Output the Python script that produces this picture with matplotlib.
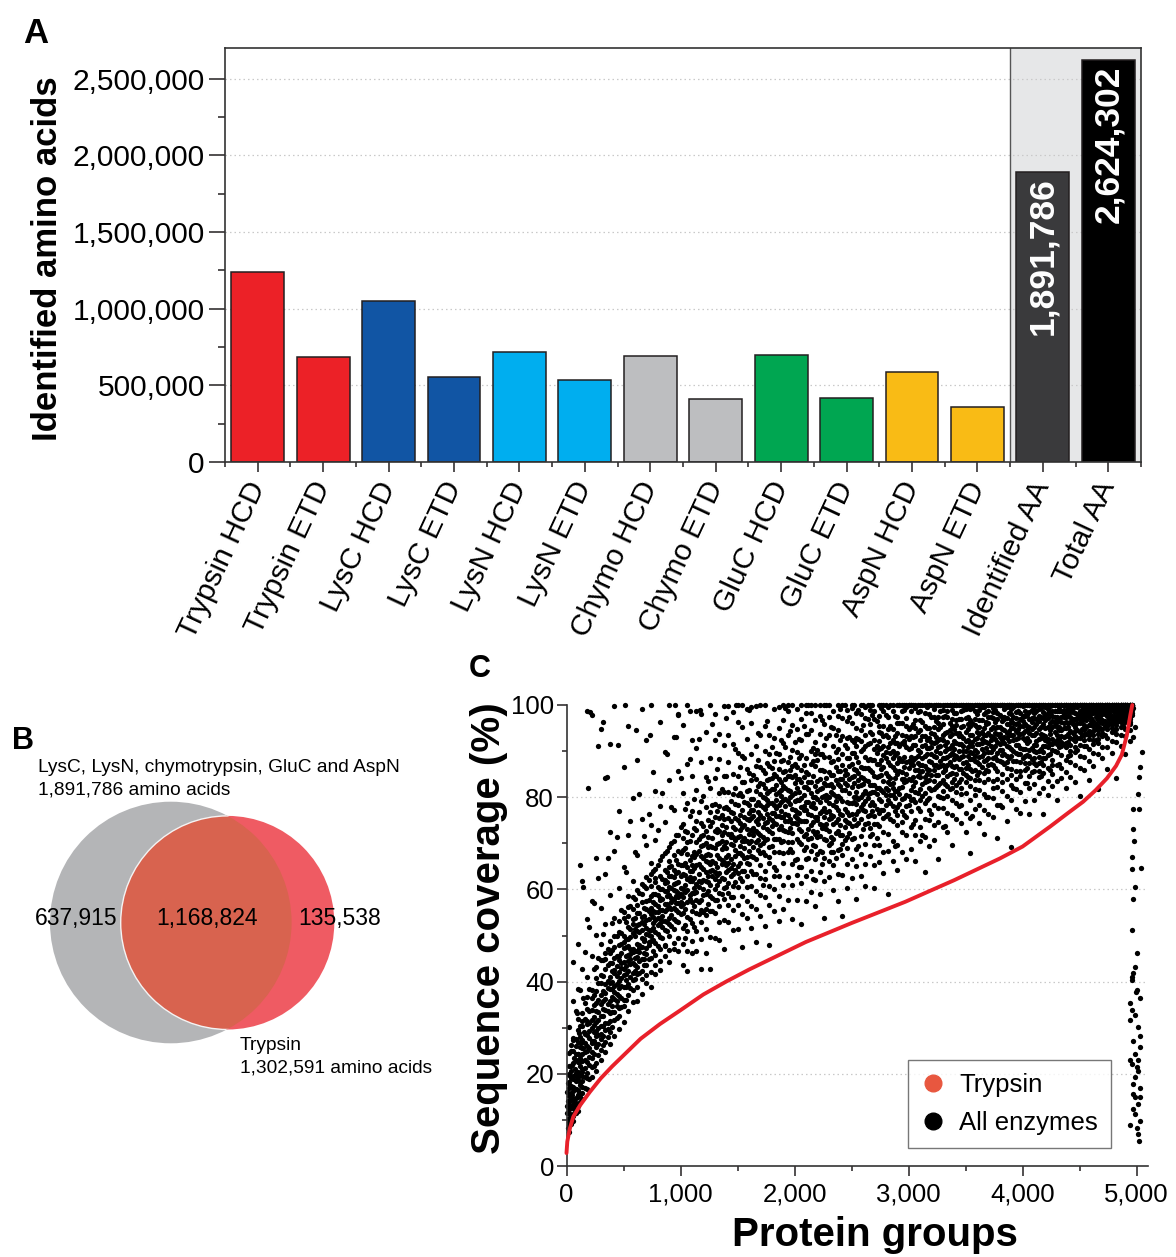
import matplotlib
matplotlib.use("Agg")
import matplotlib.pyplot as plt
from matplotlib.patches import Circle
from matplotlib.lines import Line2D
from matplotlib.ticker import FuncFormatter, MultipleLocator, FixedLocator

plt.rcParams['font.family'] = ['Liberation Sans', 'DejaVu Sans']

# ---------------- Panel A: identified amino acids per enzyme / fragmentation
CATEGORIES = ["Trypsin HCD", "Trypsin ETD", "LysC HCD", "LysC ETD", "LysN HCD",
              "LysN ETD", "Chymo HCD", "Chymo ETD", "GluC HCD", "GluC ETD",
              "AspN HCD", "AspN ETD", "Identified AA", "Total AA"]
AMINO_ACIDS = [1240000, 685000, 1050000, 555000, 718000, 535000, 692000, 410000,
               698000, 418000, 587000, 359000, 1891786, 2624302]
BAR_COLORS = ["#EC2127", "#EC2127", "#1155A4", "#1155A4", "#00AEEF", "#00AEEF",
              "#BDBEC0", "#BDBEC0", "#00A651", "#00A651", "#F9BB15", "#F9BB15",
              "#3A3A3C", "#000000"]
LABELLED_BARS = [12, 13]

# ---------------- Panel B: overlap of identified amino acids
OTHER_SET_NAME = "LysC, LysN, chymotrypsin, GluC and AspN"
OTHER_TOTAL = 1891786
TRYPSIN_TOTAL = 1302591
ONLY_OTHER = 637915
SHARED = 1168824
ONLY_TRYPSIN = 135538

# ---------------- Panel C: sequence coverage per protein group
TRYPSIN_X = [0, 7, 30, 60, 120, 206, 300, 400, 500, 650, 820, 1000, 1200, 1400, 1600,
             1800, 2100, 2500, 2970, 3400, 3800, 4000, 4240, 4400, 4530, 4640, 4740,
             4820, 4870, 4915, 4945, 4962]
TRYPSIN_Y = [2.8, 5.3, 8.2, 10.7, 13.2, 16.1, 19.0, 21.6, 24.0, 27.6, 30.8, 33.8, 37.2,
             40.0, 42.6, 45.0, 48.6, 52.7, 57.3, 62.0, 66.7, 69.3, 73.6, 76.6, 79.0,
             81.5, 84.1, 86.8, 89.2, 93.5, 97.8, 100.0]

COV_A_X = [20, 60, 100, 140, 180, 220, 260, 300, 340, 380, 420, 460, 500, 540, 580,
           620, 660, 700, 740, 780, 820, 860, 900, 940, 980]
COV_A = [
    [7.4, 15.2, 10.1, 21.7, 12.9, 8.8, 18.3, 11.5, 24.6, 13.8, 9.6, 16.9, 30.2, 19.9],
    [14.6, 9.7, 22.4, 17.1, 11.2, 27.8, 13.3, 19.5, 25.0, 10.8, 35.9, 16.2, 12.7, 44.3],
    [20.3, 13.1, 29.6, 16.4, 24.2, 11.9, 18.7, 31.8, 22.5, 15.3, 26.9, 48.2, 19.4, 38.5],
    [17.2, 27.3, 14.5, 22.8, 33.1, 19.6, 25.7, 15.9, 30.4, 21.1, 42.7, 24.3, 61.8, 18.4],
    [24.9, 19.1, 31.5, 16.8, 36.7, 22.6, 28.4, 20.2, 34.0, 26.1, 53.5, 30.7, 98.6, 40.9],
    [21.5, 33.8, 26.7, 19.3, 38.2, 29.9, 23.4, 36.5, 27.2, 45.6, 31.6, 24.8, 97.9, 57.4],
    [28.1, 22.3, 35.4, 40.7, 25.8, 31.2, 20.6, 37.9, 29.3, 50.1, 33.7, 66.8, 26.4, 43.2],
    [32.5, 25.2, 39.8, 28.7, 44.6, 22.9, 35.1, 30.3, 41.4, 37.0, 55.9, 27.6, 94.8, 48.1],
    [26.8, 36.3, 31.1, 46.2, 39.5, 24.7, 42.8, 33.9, 29.5, 52.6, 37.6, 63.4, 44.9, 84.2],
    [38.4, 29.1, 44.1, 33.2, 48.7, 26.5, 41.0, 35.8, 46.3, 31.4, 58.8, 39.7, 72.5, 91.6],
    [31.7, 42.6, 36.2, 49.9, 28.3, 45.1, 39.0, 33.5, 47.4, 53.8, 41.9, 68.3, 37.8, 99.7],
    [44.7, 34.3, 50.8, 29.7, 40.2, 47.9, 36.8, 53.1, 42.0, 32.6, 60.4, 45.5, 76.9, 38.7],
    [36.1, 47.2, 41.5, 53.7, 31.3, 44.3, 50.0, 38.9, 55.2, 42.8, 48.6, 64.9, 34.7, 86.5],
    [49.3, 39.4, 45.7, 56.1, 33.6, 51.9, 42.4, 37.2, 47.8, 54.3, 44.5, 71.7, 58.6, 95.4],
    [41.8, 52.5, 35.5, 47.0, 58.3, 44.0, 50.6, 38.2, 55.7, 46.4, 61.9, 40.3, 79.8, 53.6],
    [54.9, 45.3, 38.8, 50.9, 59.8, 43.1, 48.2, 35.9, 56.6, 52.2, 46.7, 67.4, 41.6, 88.1],
    [47.6, 40.5, 57.3, 51.2, 37.4, 54.0, 44.8, 61.1, 49.4, 42.3, 58.9, 75.2, 53.0, 99.2],
    [43.7, 55.8, 50.3, 39.6, 60.2, 47.3, 53.4, 45.9, 62.7, 57.5, 41.4, 69.6, 51.7, 92.4],
    [58.5, 48.9, 42.1, 54.6, 63.3, 51.1, 45.2, 60.8, 56.0, 38.9, 49.8, 73.9, 65.7, 100.0],
    [50.7, 61.6, 45.8, 56.9, 41.7, 53.3, 64.5, 48.4, 59.1, 55.1, 43.5, 81.3, 62.4, 70.8],
    [57.7, 47.1, 62.9, 52.8, 44.4, 60.0, 55.5, 66.4, 49.6, 58.2, 42.6, 78.1, 53.9, 96.3],
    [53.2, 64.2, 48.0, 59.6, 45.6, 56.8, 62.0, 51.3, 67.9, 55.3, 61.4, 74.6, 47.7, 89.8],
    [60.6, 50.0, 56.2, 66.1, 46.9, 63.0, 53.8, 58.7, 69.3, 52.4, 44.2, 83.7, 64.8, 100.0],
    [55.9, 67.5, 51.4, 61.2, 48.3, 58.0, 64.1, 53.5, 70.6, 59.9, 47.0, 77.3, 62.6, 93.1],
    [63.8, 52.9, 59.3, 68.4, 49.5, 57.0, 65.5, 55.0, 61.7, 71.9, 46.6, 85.6, 58.4, 98.0],
]

COV_B_X = [1020, 1060, 1100, 1140, 1180, 1220, 1260, 1300, 1340, 1380, 1420, 1460,
           1500, 1540, 1580, 1620, 1660, 1700, 1740, 1780, 1820, 1860, 1900, 1940, 1980]
COV_B = [
    [48.2, 63.3, 54.9, 68.6, 58.3, 74.2, 51.6, 60.1, 65.4, 43.7, 80.9, 56.8, 71.1, 95.7],
    [62.2, 50.9, 67.6, 57.2, 72.5, 46.6, 64.9, 59.9, 78.8, 54.1, 87.1, 70.2, 42.4, 100.0],
    [55.4, 71.7, 48.9, 63.9, 67.3, 59.2, 76.9, 52.7, 61.9, 84.6, 46.1, 65.2, 57.3, 92.5],
    [70.2, 59.5, 74.9, 51.0, 65.3, 54.9, 81.5, 61.1, 67.6, 46.6, 90.7, 57.7, 72.8, 98.8],
    [61.7, 69.4, 49.2, 79.2, 57.8, 64.8, 53.0, 74.5, 87.7, 55.5, 67.3, 42.8, 71.5, 98.0],
    [67.5, 55.7, 77.8, 61.9, 72.7, 51.5, 63.7, 84.4, 59.0, 70.0, 46.2, 66.2, 94.1, 54.4],
    [60.9, 76.7, 55.4, 65.6, 82.0, 49.6, 69.4, 64.0, 73.8, 58.5, 88.5, 42.7, 67.5, 100.0],
    [65.8, 54.8, 72.7, 60.1, 78.6, 63.7, 84.2, 57.6, 68.9, 49.4, 75.8, 92.3, 62.2, 98.1],
    [59.2, 70.1, 52.9, 75.5, 63.6, 81.0, 66.8, 56.5, 88.3, 61.8, 72.6, 49.0, 78.0, 93.7],
    [69.5, 62.3, 77.7, 57.9, 84.5, 53.4, 72.5, 65.9, 81.1, 47.1, 91.4, 60.2, 75.2, 99.7],
    [65.8, 75.4, 56.7, 72.0, 61.4, 81.1, 67.4, 52.9, 87.6, 64.2, 77.5, 59.2, 93.4, 99.8],
    [73.5, 60.8, 69.7, 80.8, 55.6, 65.5, 85.1, 58.3, 76.6, 51.1, 71.4, 91.5, 63.4, 98.4],
    [60.6, 71.3, 78.2, 65.1, 84.5, 56.7, 75.0, 67.9, 51.4, 89.6, 80.4, 63.5, 96.3, 100.0],
    [70.6, 63.9, 77.3, 58.5, 83.4, 67.5, 73.5, 54.6, 89.0, 61.8, 80.3, 95.2, 47.5, 100.0],
    [67.1, 81.4, 63.0, 75.3, 57.4, 86.2, 70.4, 65.7, 78.8, 53.9, 92.7, 73.1, 60.5, 99.2],
    [77.3, 60.7, 72.9, 67.2, 83.8, 56.4, 79.7, 70.5, 89.4, 64.0, 75.5, 51.6, 96.0, 99.6],
    [66.5, 74.8, 59.6, 81.3, 70.2, 86.7, 63.4, 78.4, 55.8, 91.2, 72.7, 48.6, 83.9, 99.7],
    [71.9, 65.4, 80.8, 58.8, 76.1, 69.6, 86.6, 62.5, 93.6, 78.3, 54.3, 83.1, 67.8, 100.0],
    [79.8, 70.8, 62.3, 74.4, 85.3, 67.4, 90.1, 58.4, 77.4, 64.0, 95.5, 52.1, 82.1, 100.0],
    [69.2, 78.8, 60.8, 84.0, 72.7, 89.4, 65.7, 75.5, 56.6, 93.6, 81.3, 48.0, 86.8, 67.1],
    [76.5, 64.8, 81.7, 71.0, 87.8, 60.0, 78.2, 68.2, 92.9, 74.3, 55.4, 85.1, 99.2, 63.0],
    [73.1, 84.0, 68.2, 78.2, 62.9, 89.3, 58.5, 81.1, 71.0, 95.0, 86.2, 53.2, 76.0, 99.5],
    [79.3, 70.4, 85.5, 65.8, 75.8, 91.7, 60.9, 72.9, 82.4, 96.8, 68.0, 55.7, 88.1, 100.0],
    [68.2, 76.2, 81.5, 72.5, 87.7, 62.6, 79.1, 70.2, 93.4, 84.6, 57.7, 98.7, 74.9, 100.0],
    [77.4, 65.5, 84.4, 72.3, 90.3, 68.2, 80.5, 60.9, 95.7, 86.8, 74.5, 53.5, 100.0, 70.3],
]

COV_C_X = [2020, 2060, 2100, 2140, 2180, 2220, 2260, 2300, 2340, 2380, 2420, 2460,
           2500, 2540, 2580, 2620, 2660, 2700, 2740, 2780, 2820, 2860, 2900, 2940, 2980]
COV_C = [
    [74.1, 84.0, 66.7, 79.4, 89.8, 71.0, 94.9, 63.1, 76.7, 86.5, 57.6, 99.2, 75.4, 81.9],
    [79.9, 69.9, 86.0, 74.9, 64.8, 92.5, 77.8, 72.6, 97.0, 61.3, 83.4, 89.1, 52.5, 100.0],
    [72.0, 78.9, 88.6, 66.5, 82.2, 74.9, 93.7, 62.9, 85.5, 98.3, 69.1, 57.4, 77.3, 100.0],
    [78.0, 68.4, 83.4, 74.0, 90.1, 63.9, 80.9, 94.5, 71.2, 87.2, 76.1, 59.5, 98.2, 100.0],
    [75.8, 82.5, 66.6, 86.8, 72.0, 92.0, 77.6, 62.1, 96.7, 80.1, 69.5, 89.4, 100.0, 56.5],
    [83.9, 74.1, 79.0, 68.3, 89.3, 63.7, 93.7, 71.6, 86.0, 97.6, 76.5, 59.1, 81.7, 100.0],
    [70.9, 80.3, 85.7, 75.8, 91.3, 66.8, 61.9, 83.0, 95.9, 73.3, 88.8, 100.0, 77.7, 53.7],
    [80.0, 72.6, 88.7, 66.1, 82.7, 77.1, 93.6, 69.6, 97.5, 85.5, 62.7, 100.0, 75.3, 78.7],
    [76.0, 87.8, 71.0, 82.2, 65.2, 91.1, 78.2, 95.0, 74.1, 84.9, 98.7, 59.8, 80.6, 68.1],
    [85.7, 77.3, 68.6, 90.4, 80.2, 72.7, 94.5, 63.4, 82.8, 97.7, 75.3, 88.2, 57.5, 100.0],
    [79.2, 84.0, 71.9, 89.3, 67.4, 93.3, 76.1, 97.1, 81.6, 63.1, 86.9, 69.8, 100.0, 54.2],
    [82.6, 74.6, 88.4, 69.0, 92.9, 78.9, 96.5, 71.3, 85.1, 65.6, 99.0, 76.8, 90.6, 60.2],
    [76.4, 87.1, 71.0, 82.2, 92.4, 66.5, 96.1, 78.7, 89.5, 73.7, 99.4, 84.3, 62.4, 100.0],
    [81.2, 73.9, 85.8, 78.5, 91.2, 68.8, 95.0, 76.3, 88.8, 98.2, 65.1, 92.9, 80.0, 57.9],
    [86.5, 77.9, 71.5, 90.0, 82.7, 75.3, 94.5, 67.7, 98.1, 84.3, 80.1, 92.2, 62.8, 100.0],
    [79.1, 83.8, 74.2, 88.8, 69.8, 93.5, 97.2, 77.0, 86.3, 65.6, 99.6, 81.4, 91.1, 60.8],
    [85.9, 76.1, 91.8, 81.0, 71.6, 95.9, 67.3, 82.6, 98.9, 78.3, 88.3, 73.4, 94.1, 100.0],
    [81.1, 88.1, 74.1, 92.5, 78.2, 97.0, 69.6, 84.7, 90.4, 65.2, 98.8, 75.9, 82.6, 60.3],
    [84.6, 79.7, 90.4, 73.7, 94.1, 69.7, 87.2, 82.1, 97.7, 76.6, 92.1, 66.0, 100.0, 95.4],
    [77.3, 86.6, 72.5, 91.2, 81.1, 95.5, 83.6, 68.2, 98.8, 75.4, 89.1, 63.6, 93.3, 100.0],
    [87.7, 81.6, 76.3, 93.0, 72.0, 97.3, 84.6, 79.4, 90.8, 68.3, 99.5, 83.3, 94.9, 59.0],
    [80.4, 90.0, 74.9, 86.6, 94.9, 70.5, 98.7, 78.0, 92.5, 83.1, 66.2, 100.0, 88.4, 82.0],
    [85.1, 77.9, 89.6, 74.0, 93.9, 81.3, 97.3, 69.6, 100.0, 76.1, 87.4, 96.1, 64.2, 91.7],
    [82.2, 91.7, 76.9, 87.9, 72.5, 96.0, 83.9, 98.7, 79.7, 93.6, 68.2, 100.0, 85.5, 74.6],
    [87.7, 80.4, 93.2, 75.6, 97.1, 83.6, 71.7, 90.8, 99.6, 78.0, 95.5, 66.5, 85.1, 100.0],
]

COV_D_X = [3020, 3060, 3100, 3140, 3180, 3220, 3260, 3300, 3340, 3380, 3420, 3460,
           3500, 3540, 3580, 3620, 3660, 3700, 3740, 3780, 3820, 3860, 3900, 3940, 3980]
COV_D = [
    [83.7, 90.6, 77.1, 95.2, 81.6, 98.6, 73.5, 87.1, 93.2, 79.4, 100.0, 68.7, 88.8, 100.0],
    [88.6, 78.9, 93.2, 83.4, 75.1, 96.7, 85.9, 71.7, 99.4, 81.2, 91.3, 95.0, 66.2, 100.0],
    [81.8, 87.0, 77.0, 92.4, 84.4, 96.7, 73.5, 89.7, 98.8, 79.4, 94.6, 70.4, 100.0, 85.5],
    [86.8, 83.2, 91.3, 78.8, 95.5, 75.3, 98.3, 84.3, 89.0, 80.9, 100.0, 93.2, 71.3, 63.8],
    [83.8, 90.7, 79.8, 95.0, 75.1, 98.1, 87.8, 82.1, 100.0, 86.0, 92.9, 77.3, 100.0, 69.5],
    [88.9, 81.8, 93.8, 85.8, 97.4, 78.4, 73.9, 91.7, 99.2, 83.5, 95.3, 70.7, 87.0, 100.0],
    [86.5, 90.8, 82.7, 94.7, 77.6, 97.3, 84.8, 100.0, 92.4, 80.2, 74.6, 96.2, 100.0, 66.7],
    [92.3, 85.4, 88.6, 81.4, 95.9, 77.6, 99.0, 83.7, 93.6, 73.5, 100.0, 87.0, 97.5, 79.8],
    [84.7, 90.4, 80.2, 94.1, 86.9, 97.3, 76.6, 100.0, 82.5, 91.9, 98.8, 72.4, 88.7, 100.0],
    [89.6, 83.4, 93.8, 79.5, 97.0, 86.7, 76.2, 98.9, 91.4, 82.1, 100.0, 85.3, 69.6, 95.5],
    [86.8, 91.7, 82.7, 95.6, 78.7, 98.2, 88.9, 85.0, 100.0, 75.2, 93.9, 100.0, 81.2, 96.8],
    [91.5, 82.0, 95.3, 86.1, 98.7, 78.2, 88.7, 93.3, 74.3, 100.0, 84.0, 97.0, 80.7, 100.0],
    [84.9, 90.1, 80.9, 94.2, 87.6, 97.1, 76.6, 99.2, 92.2, 83.2, 100.0, 72.4, 100.0, 86.3],
    [89.7, 86.2, 93.6, 82.4, 96.8, 79.3, 99.1, 88.3, 91.7, 84.1, 100.0, 75.5, 95.5, 67.9],
    [87.8, 92.7, 83.8, 95.6, 80.4, 98.7, 90.3, 85.9, 100.0, 77.5, 96.9, 88.9, 100.0, 81.8],
    [93.8, 85.5, 96.7, 88.7, 81.5, 98.9, 78.3, 91.6, 100.0, 87.1, 95.3, 74.4, 100.0, 83.8],
    [89.5, 95.0, 85.2, 98.0, 87.8, 80.6, 99.5, 92.2, 77.3, 100.0, 83.4, 93.4, 72.1, 100.0],
    [91.8, 87.0, 96.0, 83.9, 98.7, 89.7, 80.1, 100.0, 94.0, 76.4, 100.0, 85.7, 88.5, 97.4],
    [88.5, 93.0, 83.5, 97.1, 86.9, 99.4, 79.9, 100.0, 90.4, 95.2, 75.8, 100.0, 82.1, 98.4],
    [91.9, 85.7, 95.2, 89.6, 98.2, 82.3, 100.0, 88.1, 78.4, 100.0, 93.7, 84.0, 96.9, 71.2],
    [90.2, 94.9, 85.1, 97.5, 87.6, 100.0, 81.4, 92.4, 77.8, 100.0, 89.1, 96.5, 100.0, 83.3],
    [94.0, 87.6, 97.2, 83.9, 99.5, 91.2, 80.3, 100.0, 88.9, 95.8, 74.9, 100.0, 86.3, 92.8],
    [88.9, 93.5, 86.2, 96.7, 82.6, 99.1, 100.0, 90.4, 79.4, 95.0, 84.8, 100.0, 98.1, 69.2],
    [92.6, 89.6, 95.8, 85.7, 98.4, 81.7, 100.0, 87.8, 94.3, 83.9, 100.0, 77.4, 91.3, 97.2],
    [90.6, 96.9, 87.6, 100.0, 84.5, 93.7, 81.1, 100.0, 89.4, 98.3, 76.6, 100.0, 85.6, 95.4],
]

COV_E_X = [4020, 4060, 4100, 4140, 4180, 4220, 4260, 4300, 4340, 4380, 4420, 4460,
           4500, 4540, 4580, 4620, 4660, 4700, 4740, 4780, 4820, 4860, 4900, 4940]
COV_E = [
    [94.3, 88.9, 97.6, 85.8, 100.0, 92.3, 83.0, 100.0, 90.4, 95.9, 79.2, 100.0, 87.5, 98.7],
    [90.3, 95.3, 87.4, 98.4, 84.6, 100.0, 92.1, 97.0, 82.0, 100.0, 88.9, 76.3, 94.0, 100.0],
    [93.6, 88.6, 97.1, 91.3, 99.5, 85.7, 100.0, 82.9, 95.2, 87.4, 100.0, 90.1, 79.3, 98.3],
    [92.6, 96.6, 87.4, 99.2, 90.0, 100.0, 84.4, 94.8, 80.9, 100.0, 88.8, 97.7, 100.0, 85.7],
    [95.9, 91.0, 98.5, 88.6, 100.0, 85.2, 93.6, 100.0, 82.0, 97.2, 89.7, 100.0, 87.0, 76.3],
    [90.8, 95.3, 89.1, 98.2, 86.3, 100.0, 92.7, 100.0, 83.6, 97.1, 80.4, 100.0, 92.0, 99.2],
    [95.3, 90.2, 97.7, 88.1, 100.0, 92.7, 85.0, 100.0, 91.6, 96.6, 82.4, 100.0, 86.9, 98.8],
    [93.6, 97.4, 89.8, 100.0, 91.5, 100.0, 87.0, 95.2, 83.6, 98.8, 92.5, 100.0, 79.5, 96.4],
    [96.4, 92.0, 98.7, 89.1, 100.0, 94.5, 86.3, 100.0, 91.1, 97.3, 84.2, 100.0, 93.2, 100.0],
    [93.2, 97.3, 90.9, 100.0, 88.1, 100.0, 95.1, 98.4, 85.5, 100.0, 91.7, 82.0, 96.3, 100.0],
    [96.3, 92.9, 98.5, 90.0, 100.0, 94.3, 87.6, 100.0, 91.3, 97.4, 84.3, 100.0, 89.1, 99.1],
    [94.4, 98.2, 92.1, 100.0, 89.8, 100.0, 95.3, 87.0, 100.0, 97.0, 93.3, 83.3, 100.0, 90.9],
    [97.6, 94.1, 100.0, 91.4, 100.0, 89.0, 96.0, 100.0, 92.8, 98.7, 86.4, 100.0, 80.3, 96.9],
    [95.7, 98.4, 93.5, 100.0, 91.2, 100.0, 94.6, 88.8, 100.0, 97.4, 92.4, 85.9, 100.0, 99.3],
    [97.3, 94.4, 99.1, 92.6, 100.0, 90.4, 95.7, 100.0, 87.9, 98.3, 93.5, 100.0, 83.8, 100.0],
    [95.5, 98.2, 93.4, 100.0, 91.6, 100.0, 96.6, 89.5, 99.2, 100.0, 94.4, 86.8, 100.0, 92.4],
    [98.2, 95.4, 100.0, 93.8, 100.0, 91.7, 96.7, 100.0, 89.3, 98.9, 94.5, 100.0, 92.6, 81.8],
    [96.8, 99.0, 94.9, 100.0, 93.2, 100.0, 96.1, 90.9, 100.0, 98.1, 94.0, 88.4, 100.0, 99.5],
    [98.1, 96.2, 100.0, 94.7, 100.0, 92.9, 97.6, 100.0, 90.9, 99.0, 95.4, 100.0, 86.2, 100.0],
    [97.0, 99.0, 95.8, 100.0, 94.2, 100.0, 97.6, 92.1, 100.0, 100.0, 96.4, 89.6, 100.0, 95.1],
    [98.8, 96.9, 100.0, 95.6, 100.0, 93.8, 97.7, 100.0, 91.9, 100.0, 96.3, 100.0, 94.8, 84.1],
    [97.5, 100.0, 96.4, 100.0, 95.3, 100.0, 98.2, 93.4, 100.0, 99.1, 96.9, 91.1, 100.0, 100.0],
    [99.0, 97.5, 100.0, 96.3, 100.0, 94.9, 98.3, 100.0, 93.3, 100.0, 96.9, 100.0, 89.4, 100.0],
    [98.2, 100.0, 97.0, 100.0, 95.9, 100.0, 98.7, 94.6, 100.0, 100.0, 97.5, 92.2, 100.0, 96.4],
]

# second set of protein-group bins, between the ones above
COV2_A_X = [40, 80, 120, 160, 200, 240, 280, 320, 360, 400, 440, 480, 520, 560, 600,
            640, 680, 720, 760, 800, 840, 880, 920, 960, 1000]
COV2_A = [
    [12.6, 9.1, 17.3, 14.4, 21.8, 10.7, 15.9, 26.2, 13.1, 19.0],
    [18.4, 13.7, 22.9, 11.5, 16.6, 27.5, 20.1, 14.8, 33.6, 24.2],
    [15.3, 21.7, 25.8, 18.2, 30.4, 13.9, 23.5, 19.9, 38.1, 28.0],
    [26.7, 19.4, 23.1, 31.9, 17.0, 28.6, 21.2, 35.3, 46.5, 24.8],
    [22.0, 29.3, 25.6, 18.9, 33.7, 27.8, 38.4, 23.6, 31.1, 51.9],
    [30.5, 24.3, 34.9, 27.1, 21.6, 37.2, 29.0, 42.8, 32.3, 57.1],
    [26.4, 33.3, 29.9, 39.6, 24.1, 36.0, 31.7, 45.2, 28.5, 62.5],
    [35.8, 28.2, 32.6, 41.3, 37.9, 26.3, 44.7, 30.4, 50.3, 34.1],
    [31.0, 38.6, 35.2, 27.9, 43.5, 33.6, 47.0, 40.1, 29.7, 66.9],
    [38.3, 33.5, 42.4, 36.6, 30.2, 46.9, 40.0, 34.8, 52.7, 44.1],
    [34.7, 41.2, 37.4, 45.6, 32.0, 39.5, 49.8, 43.3, 35.9, 71.4],
    [42.9, 36.5, 46.3, 39.1, 50.6, 34.4, 44.0, 40.8, 55.5, 48.2],
    [38.8, 45.5, 41.7, 49.2, 36.1, 43.4, 53.0, 47.4, 40.3, 63.8],
    [47.1, 41.0, 44.8, 51.4, 38.6, 49.6, 43.9, 56.3, 46.0, 74.9],
    [43.6, 49.9, 46.7, 40.5, 53.8, 45.1, 51.5, 57.9, 42.2, 68.2],
    [50.8, 44.4, 48.0, 54.9, 41.8, 46.4, 52.6, 59.3, 47.3, 80.7],
    [46.2, 52.4, 49.3, 43.5, 56.0, 48.8, 54.3, 60.7, 45.0, 71.6],
    [53.6, 47.9, 51.1, 57.7, 44.9, 50.2, 55.4, 62.0, 48.6, 76.3],
    [49.0, 55.3, 52.7, 46.6, 59.1, 51.6, 57.2, 63.9, 54.0, 85.4],
    [56.5, 50.4, 53.9, 60.6, 47.8, 55.0, 58.8, 65.3, 52.3, 72.9],
    [51.8, 57.9, 55.6, 49.5, 62.3, 54.2, 60.1, 67.2, 53.1, 81.0],
    [58.6, 53.0, 56.9, 63.7, 50.9, 61.5, 55.7, 68.4, 59.7, 89.3],
    [54.4, 60.3, 58.2, 52.0, 65.0, 57.3, 62.8, 70.1, 55.8, 77.8],
    [61.4, 55.5, 59.6, 66.4, 53.2, 58.5, 63.6, 71.7, 57.1, 93.0],
    [57.2, 62.9, 60.4, 54.6, 67.8, 59.0, 65.2, 73.5, 56.3, 84.1],
]

COV2_B_X = [1040, 1080, 1120, 1160, 1200, 1240, 1280, 1320, 1360, 1400, 1440, 1480,
            1520, 1560, 1600, 1640, 1680, 1720, 1760, 1800, 1840, 1880, 1920, 1960, 2000]
COV2_B = [
    [63.1, 55.7, 68.9, 59.4, 72.6, 52.3, 65.8, 61.0, 77.4, 49.5],
    [57.9, 66.3, 61.8, 53.6, 70.5, 64.0, 58.7, 75.9, 62.6, 88.2],
    [68.1, 60.2, 64.7, 56.5, 73.3, 62.4, 51.8, 67.0, 79.6, 59.3],
    [60.6, 71.0, 65.5, 57.2, 63.3, 76.8, 54.7, 68.4, 61.9, 92.6],
    [66.9, 58.8, 73.7, 62.1, 69.6, 55.0, 64.5, 80.3, 60.0, 71.8],
    [71.4, 63.0, 59.6, 67.7, 75.1, 56.9, 65.9, 61.7, 83.5, 69.2],
    [62.8, 69.3, 74.6, 58.1, 66.2, 78.4, 64.1, 71.2, 55.3, 95.8],
    [73.0, 64.9, 60.9, 69.8, 67.5, 77.0, 57.8, 72.4, 86.1, 63.2],
    [65.6, 71.9, 62.4, 76.2, 68.7, 59.1, 74.0, 66.3, 81.8, 70.6],
    [70.2, 63.8, 77.9, 67.1, 73.6, 60.5, 69.0, 84.7, 65.4, 97.1],
    [74.8, 66.6, 71.3, 62.9, 79.2, 69.9, 64.6, 76.7, 72.1, 58.4],
    [67.3, 73.2, 78.6, 64.2, 70.8, 82.0, 68.5, 75.4, 61.6, 90.4],
    [76.1, 69.5, 72.8, 65.7, 80.9, 71.6, 67.9, 86.6, 74.3, 62.5],
    [69.0, 75.7, 71.1, 83.2, 66.8, 78.9, 73.9, 64.0, 88.4, 70.4],
    [78.3, 72.0, 68.3, 75.0, 81.6, 70.0, 76.6, 65.6, 85.3, 99.0],
    [71.7, 77.3, 73.4, 69.2, 84.9, 75.9, 67.0, 79.7, 72.7, 63.3],
    [76.8, 70.7, 82.4, 74.1, 68.6, 79.0, 72.2, 88.0, 75.3, 93.9],
    [73.5, 80.1, 70.0, 77.8, 75.5, 85.8, 68.1, 82.9, 71.4, 60.9],
    [79.5, 73.0, 76.4, 83.7, 70.9, 78.2, 87.4, 74.6, 81.0, 96.5],
    [75.1, 81.8, 72.3, 78.7, 86.3, 76.5, 69.4, 84.2, 73.7, 90.8],
    [80.6, 74.2, 77.6, 71.0, 84.5, 79.3, 89.6, 76.0, 82.7, 64.1],
    [77.0, 83.3, 73.8, 80.2, 87.9, 75.6, 81.5, 70.3, 92.4, 78.9],
    [82.1, 76.3, 79.6, 72.6, 85.7, 78.0, 90.9, 74.9, 83.9, 99.4],
    [78.5, 84.6, 75.2, 81.4, 73.3, 88.8, 80.0, 86.0, 68.7, 94.3],
    [83.0, 77.2, 80.9, 74.4, 87.1, 79.2, 92.0, 76.0, 84.8, 66.3],
]

COV2_C_X = [2040, 2080, 2120, 2160, 2200, 2240, 2280, 2320, 2360, 2400, 2440, 2480,
            2520, 2560, 2600, 2640, 2680, 2720, 2760, 2800, 2840, 2880, 2920, 2960, 3000]
COV2_C = [
    [79.4, 73.1, 84.0, 76.6, 70.2, 88.5, 81.1, 92.7, 75.0, 64.8],
    [74.8, 82.3, 78.0, 86.9, 71.5, 80.4, 68.6, 77.3, 95.5, 84.4],
    [81.7, 76.4, 85.1, 73.0, 79.0, 66.9, 83.2, 70.9, 93.8, 100.0],
    [77.9, 84.7, 72.6, 74.6, 87.8, 80.0, 69.7, 90.7, 78.8, 62.2],
    [83.6, 75.1, 71.4, 81.3, 75.8, 90.2, 79.7, 67.6, 72.4, 88.0],
    [80.0, 85.9, 77.0, 73.3, 89.4, 74.0, 81.9, 96.8, 68.1, 65.6],
    [74.2, 79.3, 82.6, 70.7, 76.7, 92.8, 84.1, 73.2, 80.5, 100.0],
    [81.2, 87.6, 71.4, 84.8, 76.1, 75.5, 82.9, 95.3, 68.2, 70.1],
    [86.6, 74.7, 83.8, 77.8, 89.9, 72.3, 93.5, 79.1, 66.9, 80.3],
    [82.4, 76.3, 79.9, 85.6, 92.3, 71.9, 84.0, 99.1, 74.0, 68.7],
    [77.5, 81.6, 84.9, 91.4, 73.6, 86.0, 75.0, 83.0, 70.8, 100.0],
    [84.0, 78.7, 81.0, 86.8, 93.1, 74.5, 88.4, 72.2, 97.4, 76.2],
    [78.9, 83.1, 86.1, 75.3, 91.9, 84.5, 71.2, 89.5, 80.0, 100.0],
    [85.3, 79.6, 82.5, 87.7, 74.4, 76.9, 92.6, 99.0, 83.7, 69.5],
    [80.8, 84.2, 77.2, 90.5, 86.4, 73.0, 95.7, 82.9, 78.6, 100.0],
    [86.4, 79.8, 83.6, 75.9, 91.6, 80.8, 88.0, 74.4, 97.0, 100.0],
    [78.9, 85.4, 88.0, 82.6, 93.7, 76.9, 97.8, 81.2, 72.0, 100.0],
    [87.3, 80.6, 84.4, 89.6, 77.5, 96.5, 82.0, 91.2, 74.1, 71.1],
    [81.6, 86.2, 79.1, 90.7, 84.9, 94.0, 77.3, 99.3, 88.0, 100.0],
    [85.2, 78.2, 88.5, 82.0, 93.6, 76.0, 89.9, 97.8, 80.4, 100.0],
    [80.4, 87.0, 84.2, 91.7, 78.7, 95.4, 82.8, 100.0, 75.3, 89.5],
    [86.0, 81.3, 89.1, 77.1, 93.3, 84.2, 97.6, 79.8, 91.8, 69.5],
    [82.1, 87.9, 91.0, 78.6, 85.6, 96.0, 80.6, 100.0, 88.4, 100.0],
    [88.7, 83.4, 79.9, 92.2, 86.5, 98.9, 76.1, 91.5, 84.0, 100.0],
    [83.9, 90.5, 87.8, 80.3, 94.7, 86.3, 100.0, 78.2, 92.6, 100.0],
]

COV2_D_X = [3040, 3080, 3120, 3160, 3200, 3240, 3280, 3320, 3360, 3400, 3440, 3480,
            3520, 3560, 3600, 3640, 3680, 3720, 3760, 3800, 3840, 3880, 3920, 3960, 4000]
COV2_D = [
    [88.1, 82.4, 91.3, 79.6, 86.9, 95.8, 84.3, 100.0, 74.2, 93.0],
    [84.6, 90.2, 87.5, 81.0, 94.1, 77.7, 89.0, 98.4, 85.8, 100.0],
    [91.0, 85.7, 82.8, 88.4, 96.3, 80.2, 93.2, 100.0, 87.0, 71.9],
    [86.2, 92.4, 89.3, 83.5, 95.1, 79.4, 90.6, 99.5, 85.0, 100.0],
    [90.8, 84.8, 87.7, 93.9, 81.6, 97.3, 89.4, 100.0, 76.4, 92.0],
    [87.0, 93.1, 90.1, 84.9, 96.6, 82.3, 88.8, 100.0, 91.9, 100.0],
    [92.6, 86.8, 89.5, 83.1, 95.3, 91.0, 98.8, 80.0, 87.9, 100.0],
    [88.5, 94.0, 85.9, 91.4, 97.7, 82.9, 90.0, 100.0, 86.4, 73.8],
    [93.2, 87.6, 90.7, 85.0, 96.1, 89.1, 100.0, 81.8, 94.5, 100.0],
    [89.2, 94.8, 86.6, 92.1, 98.2, 84.0, 90.5, 100.0, 88.2, 100.0],
    [94.0, 88.3, 91.6, 86.2, 97.0, 90.1, 100.0, 83.4, 93.3, 78.0],
    [90.0, 95.4, 87.5, 92.9, 99.0, 85.2, 91.2, 100.0, 89.0, 100.0],
    [94.7, 89.0, 92.3, 86.9, 97.5, 90.8, 100.0, 84.3, 95.9, 100.0],
    [91.1, 96.2, 88.3, 93.6, 99.4, 85.7, 92.0, 100.0, 89.6, 76.0],
    [95.3, 89.9, 92.8, 87.6, 98.0, 91.5, 100.0, 84.9, 94.1, 100.0],
    [91.8, 96.8, 89.0, 94.2, 99.6, 86.5, 92.7, 100.0, 90.4, 100.0],
    [95.9, 90.6, 93.4, 88.0, 98.5, 92.0, 100.0, 85.8, 96.4, 80.1],
    [92.4, 97.3, 89.7, 94.8, 100.0, 87.2, 93.3, 100.0, 91.0, 100.0],
    [96.4, 91.2, 93.9, 88.8, 98.9, 92.6, 100.0, 86.4, 95.0, 100.0],
    [93.0, 97.8, 90.3, 95.3, 100.0, 87.9, 93.8, 100.0, 91.6, 78.3],
    [96.9, 91.8, 94.5, 89.4, 99.2, 93.1, 100.0, 87.1, 97.4, 100.0],
    [93.5, 98.2, 90.9, 95.8, 100.0, 88.6, 94.3, 100.0, 92.2, 100.0],
    [97.3, 92.3, 95.0, 90.0, 99.5, 93.6, 100.0, 87.8, 96.0, 82.0],
    [94.0, 98.6, 91.4, 96.2, 100.0, 89.3, 94.8, 100.0, 92.8, 100.0],
    [97.7, 92.8, 95.4, 90.5, 99.7, 94.0, 100.0, 88.4, 96.6, 100.0],
]

COV2_E_X = [4040, 4080, 4120, 4160, 4200, 4240, 4280, 4320, 4360, 4400, 4440, 4480,
            4520, 4560, 4600, 4640, 4680, 4720, 4760, 4800, 4840, 4880, 4920, 4960]
COV2_E = [
    [94.6, 89.1, 97.9, 91.7, 100.0, 86.4, 95.5, 100.0, 92.9, 83.0],
    [90.7, 96.3, 93.4, 99.0, 88.2, 100.0, 94.7, 85.5, 97.2, 100.0],
    [95.8, 92.1, 98.6, 89.8, 100.0, 94.0, 86.9, 100.0, 96.9, 91.3],
    [92.9, 97.4, 90.5, 100.0, 95.2, 87.7, 99.3, 93.8, 100.0, 84.6],
    [96.7, 93.3, 99.5, 91.0, 100.0, 95.0, 88.5, 100.0, 97.8, 92.4],
    [93.7, 98.1, 91.6, 100.0, 96.0, 89.4, 99.8, 94.6, 100.0, 86.0],
    [97.4, 94.2, 100.0, 92.0, 98.6, 95.7, 90.1, 100.0, 96.3, 100.0],
    [94.5, 98.8, 92.7, 100.0, 96.9, 90.8, 100.0, 95.3, 99.1, 87.3],
    [98.0, 95.0, 100.0, 93.1, 99.0, 96.2, 91.5, 100.0, 97.5, 100.0],
    [95.2, 99.2, 93.8, 100.0, 97.6, 91.9, 100.0, 96.0, 99.6, 88.9],
    [98.5, 95.8, 100.0, 94.0, 99.4, 97.0, 92.6, 100.0, 96.8, 100.0],
    [96.0, 99.5, 94.6, 100.0, 98.1, 92.9, 100.0, 97.2, 100.0, 90.2],
    [98.9, 96.5, 100.0, 94.9, 99.7, 97.6, 93.4, 100.0, 98.4, 100.0],
    [96.8, 99.8, 95.2, 100.0, 98.6, 93.8, 100.0, 97.9, 100.0, 91.0],
    [99.2, 97.1, 100.0, 95.7, 100.0, 98.2, 94.2, 100.0, 96.6, 100.0],
    [97.4, 100.0, 95.9, 100.0, 99.0, 94.7, 100.0, 98.3, 100.0, 92.3],
    [99.5, 97.7, 100.0, 96.3, 100.0, 98.7, 95.0, 100.0, 97.0, 100.0],
    [98.0, 100.0, 96.5, 100.0, 99.3, 95.4, 100.0, 98.8, 100.0, 93.5],
    [99.7, 98.2, 100.0, 96.9, 100.0, 99.1, 95.8, 100.0, 97.6, 100.0],
    [98.5, 100.0, 97.2, 100.0, 99.6, 96.1, 100.0, 99.0, 100.0, 94.6],
    [100.0, 98.7, 100.0, 97.4, 100.0, 99.3, 96.5, 100.0, 98.1, 100.0],
    [99.0, 100.0, 97.7, 100.0, 99.8, 96.9, 100.0, 99.4, 100.0, 95.5],
    [100.0, 99.2, 100.0, 98.0, 100.0, 99.6, 97.3, 100.0, 98.6, 100.0],
    [99.4, 100.0, 98.3, 100.0, 100.0, 99.7, 97.8, 100.0, 99.0, 100.0],
]

# crowded low-coverage corner of the first protein groups
LOWLEFT_X = [5, 10, 15, 22, 28, 33, 38, 45, 50, 55, 62, 68, 74, 80, 85, 92, 98, 105, 112,
             118, 125, 132, 140, 148, 155, 8, 18, 26, 36, 48, 58, 70, 84, 96, 110, 128,
             145, 3, 12, 42]
LOWLEFT_Y = [11.5, 8.2, 14.1, 10.4, 17.2, 12.8, 20.6, 15.3, 10.7, 18.9, 23.4, 13.6, 21.1,
             16.7, 26.0, 19.3, 14.9, 24.2, 28.8, 17.6, 22.7, 31.5, 20.4, 25.6, 29.1, 16.0,
             12.3, 19.8, 9.6, 22.0, 27.3, 12.4, 20.0, 33.2, 15.9, 26.6, 36.4, 13.0, 18.1,
             25.0]

# isolated high-coverage proteins among the early groups
OUTLIER_X = [206, 513, 952, 981, 1083, 1171, 1487, 279, 323, 454, 607, 732, 191, 353, 118, 148]
OUTLIER_Y = [98.5, 100.0, 100.0, 97.8, 98.7, 98.9, 100.0, 91.0, 96.4, 91.3, 94.6, 93.5,
             81.9, 84.4, 65.3, 60.6]

# protein groups without trypsin coverage, plotted at the end of the ranking
TAIL_X = [4967, 4987, 4967, 5045, 5031, 5025, 5016, 4967, 5025, 4972, 4981, 4958, 4958,
          5037, 4987, 4967, 4964, 5002, 4967, 4958, 4996, 4987, 4958, 5002, 4958, 4987,
          5016, 4972, 5031, 4987, 4958, 5016, 4987, 5031, 4972, 5016, 4987, 5031, 5002,
          5025, 4943, 5031, 4943, 5031, 4943, 5002, 4965, 5031, 4972, 4943, 5016, 4987,
          5010]
TAIL_Y = [99.3, 95.3, 93.1, 89.9, 86.6, 84.4, 80.8, 77.5, 77.5, 73.2, 70.6, 67.0, 64.5,
          64.7, 60.6, 58.0, 51.2, 46.3, 41.8, 40.3, 37.8, 43.2, 41.0, 38.1, 33.8, 32.7,
          30.1, 27.2, 25.8, 24.3, 22.1, 20.7, 19.2, 17.0, 15.6, 13.4, 11.2, 9.8, 8.3,
          5.4, 35.3, 36.4, 31.7, 28.1, 23.0, 21.4, 17.8, 14.9, 12.3, 9.0, 6.9, 14.9, 23.0]

# ---------------- figure
W, H = 1176, 1257
fig = plt.figure(figsize=(W / 100, H / 100), dpi=100)


def frac(x0, y0, x1, y1):
    """Pixel box (top-left origin) to figure fraction rect."""
    return [x0 / W, 1 - y1 / H, (x1 - x0) / W, (y1 - y0) / H]


thousands = FuncFormatter(lambda v, p: f"{int(round(v)):,}")
DARK = "#231F20"

# ===== Panel A
axA = fig.add_axes(frac(225, 48, 1141, 462))
n = len(CATEGORIES)
axA.set_xlim(-0.5, n - 0.5)
axA.set_ylim(0, 2.70e6)
axA.axvspan(11.5, n - 0.5, color="#E6E7E8", zorder=0, lw=0)
axA.axvline(11.5, color="#555555", lw=1.0, zorder=1)
for gy in [500000, 1000000, 1500000, 2000000, 2500000]:
    axA.axhline(gy, color="#C9C9C9", lw=0.9, ls=(0, (1.2, 2.4)), zorder=0.5)
axA.bar(range(n), AMINO_ACIDS, width=0.81, color=BAR_COLORS, edgecolor=DARK,
        linewidth=1.1, zorder=2)
for i in LABELLED_BARS:
    axA.annotate(f"{AMINO_ACIDS[i]:,}", xy=(i, AMINO_ACIDS[i]), xytext=(0, -4),
                 textcoords="offset points", rotation=90, ha="center", va="top",
                 color="white", fontsize=25.5, fontweight="bold", zorder=3)
axA.yaxis.set_major_locator(MultipleLocator(500000))
axA.yaxis.set_minor_locator(MultipleLocator(250000))
axA.yaxis.set_major_formatter(thousands)
axA.set_xticks(range(n))
axA.xaxis.set_minor_locator(FixedLocator([i - 0.5 for i in range(n + 1)]))
axA.set_xticklabels(CATEGORIES, rotation=65, ha="right", va="center",
                    rotation_mode="anchor", fontsize=21.5)
axA.tick_params(axis="y", which="major", length=11.5, width=1.1, labelsize=21.5,
                pad=3, color=DARK)
axA.tick_params(axis="y", which="minor", length=5, width=1.1, color=DARK)
axA.tick_params(axis="x", which="major", length=7, width=1.1, pad=8, color=DARK)
axA.tick_params(axis="x", which="minor", length=3.5, width=1.1, color=DARK)
for sp in axA.spines.values():
    sp.set_linewidth(1.2)
    sp.set_color("#333333")
axA.set_ylabel("Identified amino acids", fontsize=25, fontweight="bold")
axA.yaxis.set_label_coords(-0.176, 0.49)

# ===== Panel B (Venn, laid out in pixel units)
axB = fig.add_axes(frac(0, 720, 450, 1090))
axB.set_xlim(0, 450)
axB.set_ylim(1090, 720)
axB.set_aspect("equal")
axB.axis("off")
grey = Circle((170.8, 922.5), 120.8, facecolor="#B4B5B7", edgecolor="none", zorder=1)
red = Circle((227.5, 922.7), 106.8, facecolor="#EF5B63", edgecolor="none", zorder=2)
axB.add_patch(grey)
axB.add_patch(red)
both = Circle((227.5, 922.7), 106.8, facecolor="#D8634F", edgecolor="none", zorder=3)
axB.add_patch(both)
both.set_clip_path(grey)
rim = Circle((227.5, 922.7), 106.8, facecolor="none", edgecolor="#F4F4F4", lw=1.0, zorder=4)
axB.add_patch(rim)
rim.set_clip_path(grey)
axB.text(38, 767, OTHER_SET_NAME, fontsize=13.8, va="center", ha="left")
axB.text(38, 790, f"{OTHER_TOTAL:,} amino acids", fontsize=13.8, va="center", ha="left")
axB.text(240, 1045, "Trypsin", fontsize=13.8, va="center", ha="left")
axB.text(240, 1068, f"{TRYPSIN_TOTAL:,} amino acids", fontsize=13.8, va="center", ha="left")
axB.text(76.5, 918, f"{ONLY_OTHER:,}", fontsize=16.5, ha="center", va="center", zorder=5)
axB.text(207, 918, f"{SHARED:,}", fontsize=16.5, ha="center", va="center", zorder=5)
axB.text(339.5, 918, f"{ONLY_TRYPSIN:,}", fontsize=16.5, ha="center", va="center", zorder=5)

# ===== Panel C
axC = fig.add_axes(frac(566.5, 705, 1148, 1166))
axC.set_xlim(0, 5100)
axC.set_ylim(0, 100)
for gy in [20, 40, 60, 80]:
    axC.axhline(gy, color="#C9C9C9", lw=0.9, ls=(0, (1.2, 2.4)), zorder=0.5)

xs, ys = [], []
for gx, gcols in [(COV_A_X, COV_A), (COV_B_X, COV_B), (COV_C_X, COV_C),
                  (COV_D_X, COV_D), (COV_E_X, COV_E),
                  (COV2_A_X, COV2_A), (COV2_B_X, COV2_B), (COV2_C_X, COV2_C),
                  (COV2_D_X, COV2_D), (COV2_E_X, COV2_E)]:
    for x, col in zip(gx, gcols):
        xs.extend([x] * len(col))
        ys.extend(col)
for ex, ey in [(LOWLEFT_X, LOWLEFT_Y), (OUTLIER_X, OUTLIER_Y), (TAIL_X, TAIL_Y)]:
    xs.extend(ex)
    ys.extend(ey)
axC.scatter(xs, ys, s=14.5, c="black", linewidths=0, zorder=2, clip_on=False)
axC.plot(TRYPSIN_X, TRYPSIN_Y, color="#E8202A", lw=2.8, zorder=3,
         solid_capstyle="round", solid_joinstyle="round", clip_on=False)

axC.xaxis.set_major_locator(MultipleLocator(1000))
axC.xaxis.set_minor_locator(MultipleLocator(500))
axC.xaxis.set_major_formatter(thousands)
axC.yaxis.set_major_locator(MultipleLocator(20))
axC.yaxis.set_minor_locator(MultipleLocator(10))
axC.tick_params(which="major", length=7, width=1.1, labelsize=18.5, color=DARK)
axC.tick_params(which="minor", length=3.5, width=1.1, color=DARK)
axC.tick_params(axis="x", pad=5)
axC.tick_params(axis="y", pad=2)
axC.spines["top"].set_visible(False)
axC.spines["right"].set_visible(False)
for sp in ("left", "bottom"):
    axC.spines[sp].set_linewidth(1.2)
    axC.spines[sp].set_color("#333333")
axC.set_ylabel("Sequence coverage (%)", fontsize=29, fontweight="bold")
axC.yaxis.set_label_coords(-0.100, 0.515)
axC.set_xlabel("Protein groups", fontsize=29, fontweight="bold")
axC.xaxis.set_label_coords(0.53, -0.108)

handles = [Line2D([], [], ls="", marker="o", markersize=12, color="#E8573F"),
           Line2D([], [], ls="", marker="o", markersize=12, color="black")]
leg = axC.legend(handles, ["Trypsin", "All enzymes"], loc="lower right",
                 bbox_to_anchor=(0.936, 0.039), fontsize=18.5, frameon=True,
                 fancybox=False, handlelength=1.0, handletextpad=0.5,
                 labelspacing=0.55, borderpad=0.5, borderaxespad=0)
leg.get_frame().set_edgecolor("#555555")
leg.get_frame().set_linewidth(1.0)
leg.set_zorder(5)

# panel letters
fig.text(23 / W, 1 - 17 / H, "A", fontsize=25, fontweight="bold", va="top", ha="left")
fig.text(12 / W, 1 - 726 / H, "B", fontsize=22, fontweight="bold", va="top", ha="left")
fig.text(469 / W, 1 - 654 / H, "C", fontsize=22, fontweight="bold", va="top", ha="left")

fig.savefig("out.png", dpi=100)
